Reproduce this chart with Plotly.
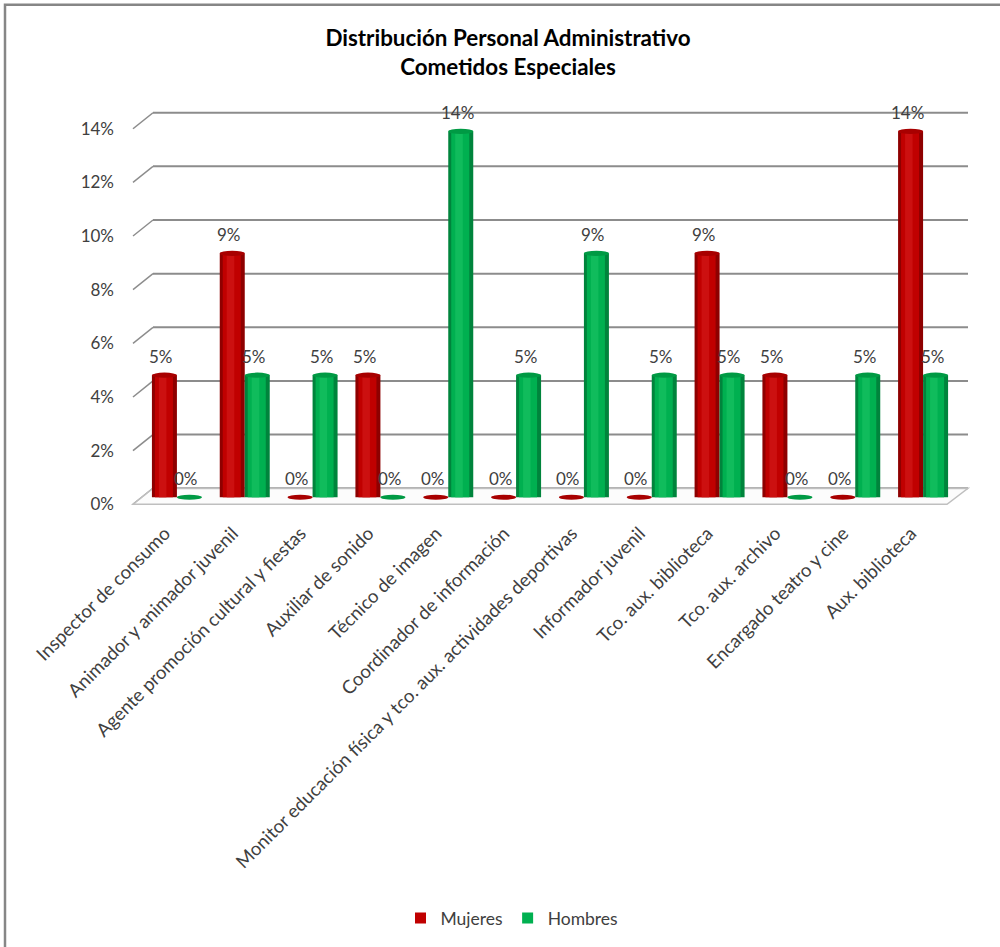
import plotly.graph_objects as go

categories = [
    "Inspector de consumo",
    "Animador y animador juvenil",
    "Agente promoción cultural y fiestas",
    "Auxiliar de sonido",
    "Técnico de imagen",
    "Coordinador de información",
    "Monitor educación física y tco. aux. actividades deportivas",
    "Informador juvenil",
    "Tco. aux. biblioteca",
    "Tco. aux. archivo",
    "Encargado teatro y cine",
    "Aux. biblioteca",
]
mujeres = [0.0455, 0.0909, 0.0, 0.0455, 0.0, 0.0, 0.0, 0.0, 0.0909, 0.0455, 0.0, 0.1364]
hombres = [0.0, 0.0455, 0.0455, 0.0, 0.1364, 0.0455, 0.0909, 0.0455, 0.0455, 0.0, 0.0455, 0.0455]
y_ticks = [0, 0.02, 0.04, 0.06, 0.08, 0.10, 0.12, 0.14]
y_tick_labels = ["0%", "2%", "4%", "6%", "8%", "10%", "12%", "14%"]

W, H = 1000, 947
L_PX, R_PX = 143, 957
Y0_PX = 497
PX_PER_UNIT = 2680.0
YMIN, YMAX = -0.004, 0.144
top_px = Y0_PX - YMAX * PX_PER_UNIT
bot_px = Y0_PX - YMIN * PX_PER_UNIT
plot_w = R_PX - L_PX
plot_h = bot_px - top_px

def px_x(p):
    return (p - L_PX) / plot_w

def px_y_paper(p):
    return (bot_px - p) / plot_h

BACK = 9 / PX_PER_UNIT
FRONT = -7 / PX_PER_UNIT
ELL = 2.6 / PX_PER_UNIT

x = list(range(len(categories)))
unit_px = plot_w / len(categories)
bw = 25 / unit_px

FONT = "Lato, 'Open Sans', sans-serif"
TXT = "#404040"

fig = go.Figure()
shapes = []
annotations = []

def add_cyl(vals, name, dark, mid, light, top, offset):
    fig.add_trace(go.Bar(
        x=x, y=vals, name=name, marker=dict(color=dark, line=dict(width=0)),
        width=bw, offset=offset, showlegend=False, hoverinfo="skip",
    ))
    fig.add_trace(go.Bar(
        x=x, y=vals, name=name, marker=dict(color=mid, line=dict(width=0)),
        width=bw * 0.72, offset=offset + bw * 0.12, showlegend=False, hoverinfo="skip",
    ))
    fig.add_trace(go.Bar(
        x=x, y=vals, name=name, marker=dict(color=light, line=dict(width=0)),
        width=bw * 0.3, offset=offset + bw * 0.28, showlegend=False, hoverinfo="skip",
    ))
    fig.add_trace(go.Scatter(
        x=[None], y=[None], mode="markers", name=name,
        marker=dict(symbol="square", size=11, color=mid),
    ))
    for xi, v in zip(x, vals):
        x0 = xi + offset
        x1 = x0 + bw
        shapes.append(dict(type="circle", xref="x", yref="y",
                           x0=x0, x1=x1, y0=v - ELL, y1=v + ELL,
                           fillcolor=top, line=dict(width=0), layer="above"))
        annotations.append(dict(x=(x0 + x1) / 2 - 3 / unit_px, y=v, xref="x", yref="y",
                                text=f"{v:.0%}", showarrow=False, yanchor="bottom",
                                yshift=6, font=dict(family=FONT, size=17, color=TXT)))

add_cyl(mujeres, "Mujeres", "#8E0000", "#C00000", "#CC1010", "#A80000", -bw)
add_cyl(hombres, "Hombres", "#00843C", "#00B050", "#10BC5C", "#009A44", 0)

grid_col = "#8C8C8C"
for v in y_ticks:
    shapes.append(dict(type="line", xref="paper", yref="y",
                       x0=px_x(153), x1=px_x(968), y0=v + BACK, y1=v + BACK,
                       line=dict(color=grid_col, width=2), layer="below"))
    shapes.append(dict(type="line", xref="paper", yref="y",
                       x0=px_x(133), x1=px_x(153), y0=v + FRONT, y1=v + BACK,
                       line=dict(color=grid_col, width=1.5), layer="below"))
shapes.append(dict(type="path", xref="paper", yref="y",
                   path=f"M {px_x(133)},{FRONT} L {px_x(947)},{FRONT} L {px_x(968)},{BACK} L {px_x(153)},{BACK} Z",
                   line=dict(color="#BFBFBF", width=1.5), fillcolor="rgba(250,250,250,0.5)", layer="below"))
shapes.append(dict(type="rect", xref="paper", yref="paper",
                   x0=px_x(5), x1=px_x(1010), y0=px_y_paper(960), y1=px_y_paper(5),
                   line=dict(color="#868686", width=2.5), fillcolor="rgba(0,0,0,0)"))

fig.update_layout(
    width=W, height=H, autosize=False,
    margin=dict(l=L_PX, r=W - R_PX, t=top_px, b=H - bot_px, pad=0),
    paper_bgcolor="white", plot_bgcolor="rgba(0,0,0,0)",
    barmode="overlay",
    title=dict(text="<b>Distribución Personal Administrativo<br>Cometidos Especiales</b>",
               x=0.508, xanchor="center", xref="container",
               y=1 - 46 / H, yanchor="middle", yref="container",
               font=dict(family=FONT, size=22.4, color="black")),
    font=dict(family=FONT, color=TXT),
    legend=dict(orientation="h", x=0.512, xanchor="center", xref="container",
                y=1 - 918 / H, yanchor="middle", yref="container",
                font=dict(family=FONT, size=17.5, color=TXT), itemwidth=30),
    shapes=shapes,
    annotations=annotations,
    showlegend=True,
)
fig.update_xaxes(
    range=[-0.5, len(categories) - 0.5], tickmode="array", tickvals=x, ticktext=categories,
    tickangle=-45, showgrid=False, zeroline=False, showline=False, ticks="",
    tickfont=dict(family=FONT, size=18.6, color=TXT), ticklabelstandoff=10, ticklabelshift=-12,
)
fig.update_yaxes(
    range=[YMIN, YMAX], tickmode="array", tickvals=y_ticks, ticktext=y_tick_labels,
    showgrid=False, zeroline=False, showline=False, ticks="",
    tickfont=dict(family=FONT, size=17, color=TXT), ticklabelstandoff=28, ticklabelshift=7,
)

fig.write_html("out.html")
